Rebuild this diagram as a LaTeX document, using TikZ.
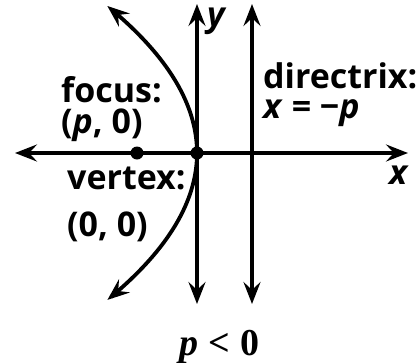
\documentclass[tikz,border=0pt]{standalone}
\usepackage{fontspec}
\setmainfont{Open Sans}
\newfontfamily\serifnum{Liberation Serif}
\usetikzlibrary{arrows.meta}
\tikzset{
  tip/.tip={Stealth[length=22pt,width=17pt,inset=8pt]},
  axis/.style={line width=3.8pt,tip-tip},
  dot/.style={circle,fill=black,inner sep=0pt,minimum size=13pt},
  lbl/.style={inner sep=0pt,anchor=base west,font=\fontsize{34}{40}\selectfont\bfseries},
}
\begin{document}
\begin{tikzpicture}[x=1pt,y=-1pt]
\useasboundingbox (0,0) rectangle (417,362);
% axes
\coordinate (xl) at (15,153);
\coordinate (xr) at (408,153);
\coordinate (yb) at (197,304);
\coordinate (yt) at (197,4);
\coordinate (db) at (252,304);
\coordinate (dt) at (252,4);
\draw[axis] (xl) -- (xr);
\draw[axis] (yb) -- (yt);
\draw[axis] (db) -- (dt);
% parabola
\draw[axis] plot[domain=-1.47:1.47,samples=60,smooth] ({197-\x*\x*41.5},{153+\x*100});
% points
\node[dot] (F) at (137,153) {};
\node[dot] (V) at (197,153) {};
% labels
\node[lbl,text depth=0pt] (focus) at (61,102) {focus:};
\node[lbl] (focusc) at (61,133) {(\textit{p}, 0)};
\node[lbl,text depth=0pt] (vertex) at (67,189) {vertex:};
\node[lbl] (vertexc) at (67,236) {(0, 0)};
\node[lbl,text depth=0pt] (dir) at (263,88) {directrix:};
\node[lbl,text height=19pt] (direq) at (263,118) {\textit{x} = \textminus\textit{p}};
\node[lbl] (ylab) at (207,26) {\textit{y}};
\node[lbl] (xlab) at (389,184) {\textit{x}};
\node[inner sep=0pt,anchor=base west,font=\serifnum\fontsize{38}{44}\selectfont\bfseries] (pcond) at (179,355) {\textit{p}\;<\;0};
\end{tikzpicture}
\end{document}
